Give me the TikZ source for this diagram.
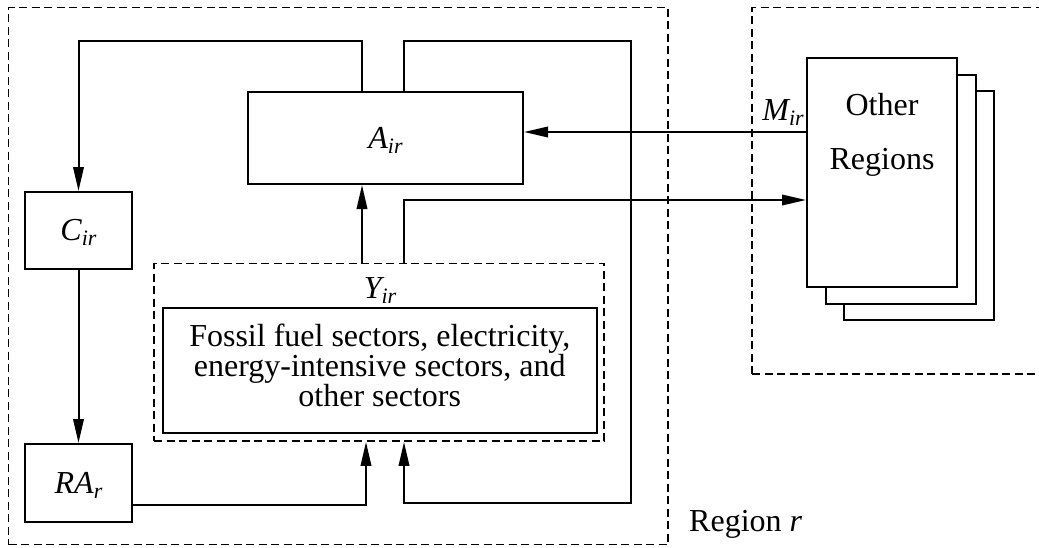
\documentclass[tikz,border=0pt]{standalone}
\usepackage{fontspec}
\setmainfont{Liberation Serif}
\usetikzlibrary{arrows.meta}
\newcommand\sbs[1]{\raisebox{-5pt}{\fontsize{22}{22}\selectfont\itshape #1}}
\begin{document}
\begin{tikzpicture}[x=1pt,y=-1pt,
  every node/.style={font=\fontsize{32}{29}\selectfont},
  box/.style={draw, line width=2pt, inner sep=0pt, text height=20pt, text depth=0pt},
  dbox/.style={draw, line width=1.8pt, dash pattern=on 8pt off 4.5pt, inner sep=0pt},
  conn/.style={line width=2pt},
  arr/.style={conn, -{Triangle[length=24pt,width=10.5pt]}},
  lbl/.style={inner sep=0pt, anchor=base}]
\path[use as bounding box, clip] (0,0) rectangle (1039,547);
\fill[white] (0,0) rectangle (1039,547);

% dashed regions
\node[dbox, minimum width=659.5pt, minimum height=537pt] (region) at (338.25,276) {};
\node[dbox, minimum width=300pt, minimum height=366.5pt] (other) at (902,190.75) {};

% boxes
\node[box, minimum width=275pt, minimum height=92pt] (A) at (385.5,138) {\itshape A\sbs{ir}};
\node[box, minimum width=107pt, minimum height=77pt] (C) at (78.5,230.5) {\itshape C\sbs{ir}};
\node[box, minimum width=107pt, minimum height=78pt] (RA) at (78.5,483) {\itshape RA\sbs{r}};
\node[dbox, minimum width=450pt, minimum height=177.5pt] (Y) at (379,352.25) {};
\node[draw, line width=2pt, inner sep=0pt, minimum width=433.5pt, minimum height=124.5pt] (sect) at (379.75,370.25) {};
\node[align=center, inner sep=0pt] (secttxt) at (379.75,365) {Fossil fuel sectors, electricity,\\energy-intensive sectors, and\\other sectors};
\node[lbl] (Ylbl) at (380,298) {\itshape Y\sbs{ir}};

% other regions stack
\node[draw, line width=2pt, fill=white, inner sep=0pt, minimum width=150pt, minimum height=229pt] (OR3) at (919,205.5) {};
\node[draw, line width=2pt, fill=white, inner sep=0pt, minimum width=150pt, minimum height=229pt] (OR2) at (900.5,189) {};
\node[draw, line width=2pt, fill=white, inner sep=0pt, minimum width=150pt, minimum height=229pt] (OR1) at (882,172.5) {};
\node[lbl] (oth) at (882,115) {Other};
\node[lbl] (reg) at (882,169) {Regions};

% labels
\node[lbl] (M) at (783,120) {\itshape M\sbs{ir}};
\node[lbl, anchor=base west] (rlbl) at (689,531) {Region \textit{r}};

% connectors
\coordinate (tl) at (362,41);
\coordinate (tr) at (631,41);
\coordinate (rb) at (404,503);
\coordinate (ex) at (404,200);
\coordinate (im) at (807,132);
\coordinate (ra) at (366,505);
\draw[arr] (A.north -| tl) -- (tl) -| (C.north);
\draw[arr] (A.north -| rb) |- (tr) |- (rb) -- (Y.south -| rb);
\draw[arr] (Y.north -| tl) -- (A.south -| tl);
\draw[arr] (Y.north -| ex) -- (ex) -- (OR1.west |- ex);
\draw[arr] (OR1.west |- im) -- (A.east |- im);
\draw[arr] (C.south) -- (RA.north);
\draw[arr] (RA.east |- ra) -- (ra) -- (Y.south -| ra);
\end{tikzpicture}
\end{document}
